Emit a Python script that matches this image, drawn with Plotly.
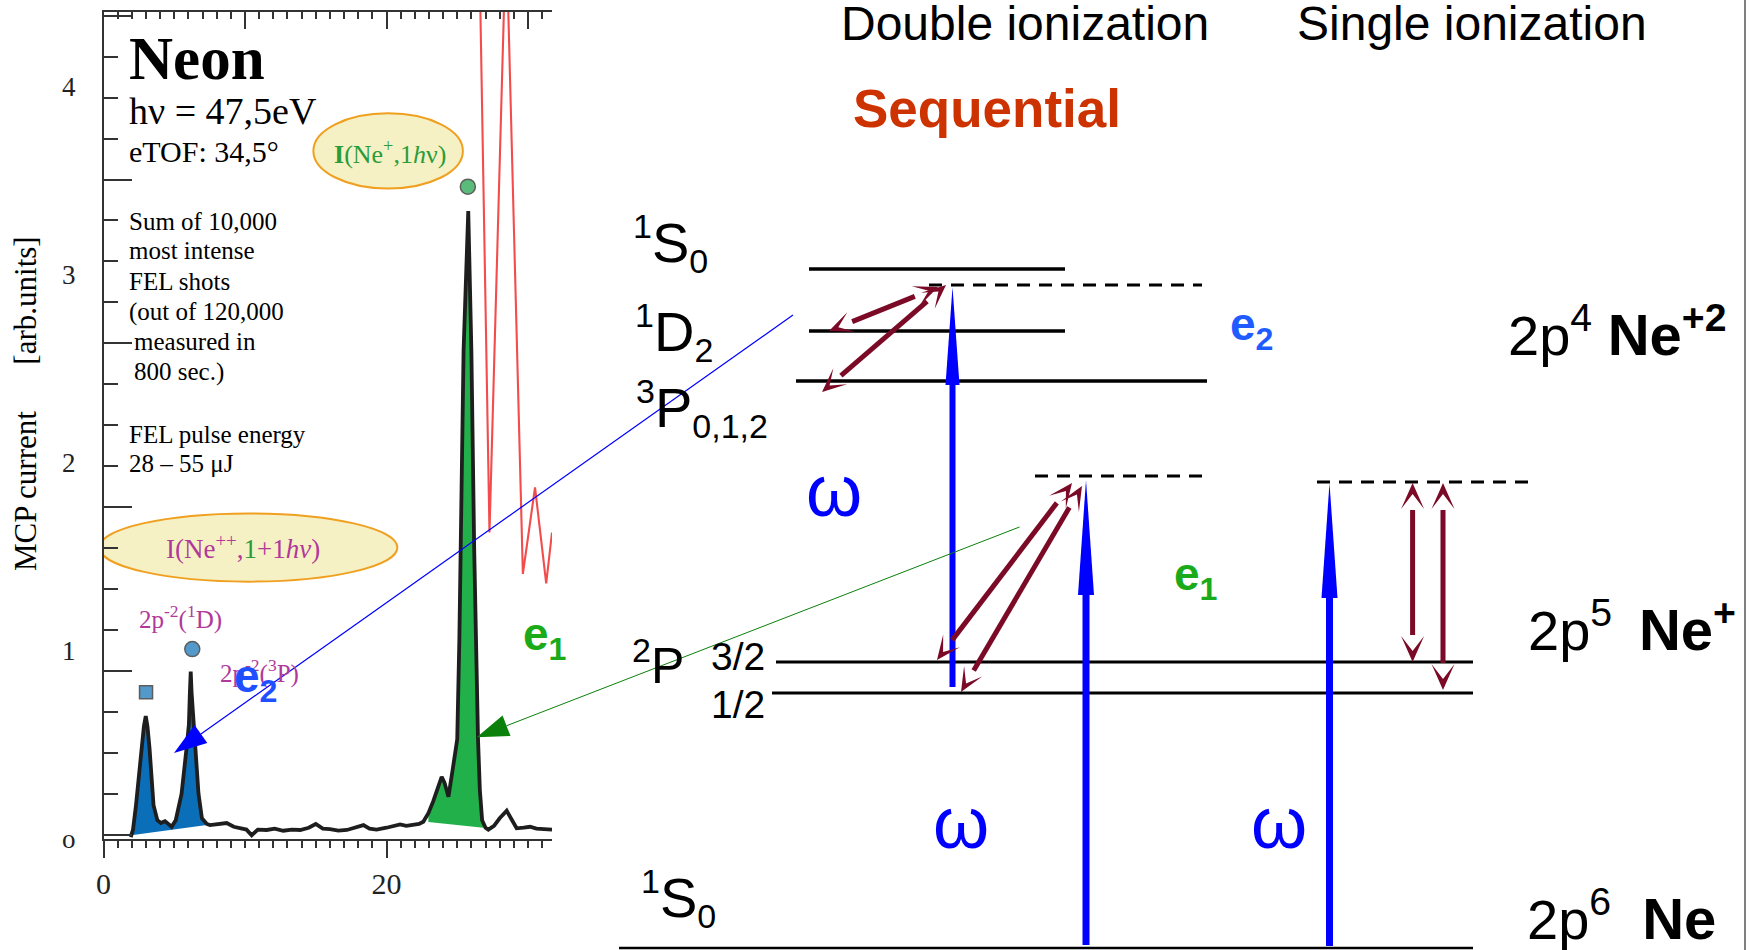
import math
import numpy as np
import plotly.graph_objects as go

SANS = "Liberation Sans"
SERIF = "Liberation Serif"

# ---------------- left panel: electron spectrum ----------------
spec_x = [1.92, 2.08, 2.29, 2.49, 2.68, 2.85, 2.98, 3.1, 3.25, 3.4, 3.53, 3.8, 4.05, 4.34, 4.6,
          4.81, 5.1, 5.51, 5.86, 6.03, 6.1, 6.16, 6.22, 6.36, 6.48, 6.71, 6.95, 7.3, 7.52, 8.0,
          8.7, 9.2, 9.65, 10.1, 10.47, 10.9, 11.53, 12.1, 12.7, 13.3, 13.9, 14.5, 15.0, 15.5,
          16.0, 16.6, 17.2, 17.8, 18.37, 18.8, 19.3, 20.0, 20.5, 20.96, 21.4, 21.9, 22.3, 22.6,
          22.96, 23.3, 23.55, 23.9, 24.1, 24.38, 24.7, 25.0, 25.15, 25.25, 25.45, 25.78, 26.0,
          26.2, 26.3, 26.47, 26.6, 26.76, 27.0, 27.2, 27.6, 28.0, 28.5, 28.85, 29.2, 29.7, 30.15,
          30.6, 31.2, 31.7]
spec_y = [0.01, 0.05, 0.18, 0.35, 0.48, 0.6, 0.654, 0.6, 0.48, 0.35, 0.18, 0.10, 0.085, 0.095, 0.075,
          0.065, 0.10, 0.24, 0.48, 0.61, 0.78, 0.89, 0.78, 0.61, 0.48, 0.24, 0.11, 0.08, 0.074, 0.08,
          0.085, 0.065, 0.06, 0.05, 0.02, 0.05, 0.048, 0.055, 0.044, 0.05, 0.048, 0.06, 0.08, 0.055,
          0.052, 0.045, 0.048, 0.06, 0.074, 0.055, 0.05, 0.06, 0.07, 0.078, 0.07, 0.074, 0.08, 0.092,
          0.137, 0.2, 0.26, 0.33, 0.3, 0.225, 0.38, 0.53, 1.06, 1.54, 2.6, 3.34, 2.6,
          1.54, 1.06, 0.53, 0.26, 0.10, 0.06, 0.05, 0.07, 0.11, 0.15, 0.1, 0.057, 0.06, 0.065,
          0.055, 0.05, 0.05]
assert len(spec_x) == len(spec_y)

# magnified tail (red)
red_x = [26.5, 27.28, 28.46, 29.64, 30.5, 31.29, 31.7]
red_y = [5.0, 1.63, 4.84, 1.41, 1.87, 1.36, 1.63]

# shaded peak groups: (x start, x end, baseline start, baseline end)
fill_blue = (1.95, 7.3, 0.02, 0.075)
fill_green = (22.96, 26.85, 0.09, 0.06)

marker_x = [3.0, 6.27, 25.75]
marker_y = [0.78, 1.01, 3.47]
marker_sym = ["square", "circle", "circle"]
marker_col = ["#0b6fb5", "#0b6fb5", "#15a042"]

x_ticks_major = [0, 10, 20, 30]
x_tick_text = ["0", "", "20", ""]
y_label_vals = [0, 1, 2, 3, 4]
y_label_text = ["o", "1", "2", "3", "4"]

# ---------------- right panel: energy level diagram (diagram units) ----------------
level_y = [269, 331, 381, 662, 693, 948]
level_x0 = [809, 809, 796, 776, 772, 619]
level_x1 = [1065, 1065, 1207, 1473, 1473, 1473]
level_w = [3.6, 3.6, 3.6, 3.2, 3.2, 2.4]

virt_y = [285, 476, 482]
virt_x0 = [929, 1035, 1317]
virt_x1 = [1202, 1210, 1534]

photon_x = [952.5, 1086, 1329.5]
photon_from = [687, 945, 946]
photon_to = [287, 480, 483]

auger_x0 = [829, 822, 937, 961, 1412.6, 1443]
auger_y0 = [331, 392, 660, 692, 662, 690]
auger_x1 = [938, 946, 1072, 1082, 1412.6, 1443]
auger_y1 = [287, 285, 483, 486, 483, 483]

# pointer lines from diagram to spectrum peaks: (start x, start y, tip x, tip y)
pointer_blue = (793, 315, 174, 753)
pointer_green = (1019.5, 527, 476.7, 737.3)

fig = go.Figure()

# ---- fills
def fill_poly(rng):
    lo, hi, b0, b1 = rng
    xs = [lo] + [x for x in spec_x if lo < x < hi] + [hi]
    ys = list(np.interp(xs, spec_x, spec_y))
    return xs + [hi, lo, lo], ys + [b1, b0, ys[0]]

for rng, col in [(fill_blue, "#0a6fb8"), (fill_green, "#22b04a")]:
    px, py = fill_poly(rng)
    fig.add_trace(go.Scatter(x=px, y=py, mode="lines", fill="toself", fillcolor=col,
                             line=dict(width=0, color=col), hoverinfo="skip", showlegend=False))

fig.add_trace(go.Scatter(x=spec_x, y=spec_y, mode="lines", line=dict(color="#1e1e1e", width=3.8),
                         hoverinfo="skip", showlegend=False))
fig.add_trace(go.Scatter(x=red_x, y=red_y, mode="lines", line=dict(color="rgba(240,45,45,0.85)", width=2.1),
                         hoverinfo="skip", showlegend=False))
fig.add_trace(go.Scatter(x=marker_x, y=marker_y, mode="markers",
                         marker=dict(symbol=marker_sym, color=marker_col, size=[13, 15, 15],
                                     line=dict(color="#1a1a1a", width=1.5)),
                         hoverinfo="skip", showlegend=False))
# carrier trace for overlay axes
fig.add_trace(go.Scatter(x=[1], y=[1], xaxis="x3", yaxis="y3", mode="markers",
                         marker=dict(opacity=0), hoverinfo="skip", showlegend=False))

# ---- diagram levels
for y, x0, x1, w in zip(level_y, level_x0, level_x1, level_w):
    fig.add_trace(go.Scatter(x=[x0, x1], y=[y, y], xaxis="x2", yaxis="y2", mode="lines",
                             line=dict(color="black", width=w), hoverinfo="skip", showlegend=False))
for y, x0, x1 in zip(virt_y, virt_x0, virt_x1):
    fig.add_trace(go.Scatter(x=[x0, x1], y=[y, y], xaxis="x2", yaxis="y2", mode="lines",
                             line=dict(color="black", width=3, dash="13px,9px"),
                             hoverinfo="skip", showlegend=False))

shapes = []

def head_path(tx, ty, ux, uy, L, W, N=None):
    nx, ny = -uy, ux
    bx, by = tx - L * ux, ty - L * uy
    p1 = (bx + W * nx, by + W * ny)
    p2 = (bx - W * nx, by - W * ny)
    pts = [(tx, ty), p1] + ([(tx - N * ux, ty - N * uy)] if N else []) + [p2]
    return "M " + " L ".join(f"{x:.2f},{y:.2f}" for x, y in pts) + " Z"

def add_arrow(x0, y0, x1, y1, color, width, L, W, N=None, both=False, gap=0.0):
    dx, dy = x1 - x0, y1 - y0
    d = math.hypot(dx, dy)
    ux, uy = dx / d, dy / d
    sx, sy = (x0 + (L + gap) * ux, y0 + (L + gap) * uy) if both else (x0, y0)
    ex, ey = x1 - (L + gap) * ux, y1 - (L + gap) * uy
    shapes.append(dict(type="line", xref="x2", yref="y2", x0=sx, y0=sy, x1=ex, y1=ey,
                       line=dict(color=color, width=width), layer="above"))
    shapes.append(dict(type="path", xref="x2", yref="y2", path=head_path(x1, y1, ux, uy, L, W, N),
                       fillcolor=color, line=dict(width=0), layer="above"))
    if both:
        shapes.append(dict(type="path", xref="x2", yref="y2", path=head_path(x0, y0, -ux, -uy, L, W, N),
                           fillcolor=color, line=dict(width=0), layer="above"))

# photon arrows
for i, (x, yf, yt) in enumerate(zip(photon_x, photon_from, photon_to)):
    if i == 0:
        add_arrow(x, yf, x, yt, "#0000ff", 6, 98, 7, gap=-4)
    else:
        add_arrow(x, yf, x, yt, "#0000ff", 7, 115, 8, gap=-4)

# Auger / relaxation double arrows
for x0, y0, x1, y1 in zip(auger_x0, auger_y0, auger_x1, auger_y1):
    if x0 == x1:
        add_arrow(x0, y0, x1, y1, "#7b0a26", 5, 26, 11.5, N=11, both=True, gap=1)
    else:
        add_arrow(x0, y0, x1, y1, "#7b0a26", 5, 24, 10.5, N=10, both=True, gap=1)

# pointers
add_arrow(*pointer_blue, "#0000ff", 1.2, 33, 11)
add_arrow(*pointer_green, "#0b800b", 1.0, 32, 11)

# right border line
shapes.append(dict(type="line", xref="x2", yref="y2", x0=1745, x1=1745, y0=0, y1=950,
                   line=dict(color="#555", width=1.5)))

# ellipses in spectrum coords
shapes.append(dict(type="circle", xref="x", yref="y", x0=14.83, x1=25.40, y0=3.46, y1=3.86,
                   fillcolor="#f6f1c4", line=dict(color="#f0a020", width=2), layer="below"))
shapes.append(dict(type="circle", xref="x", yref="y", x0=-0.3, x1=20.77, y0=1.369, y1=1.732,
                   fillcolor="#f6f1c4", line=dict(color="#f0a020", width=2), layer="below"))

annotations = []

def ann(text, x, y, size, color="#000", family=SANS, xanchor="center", yanchor="middle", **kw):
    annotations.append(dict(text=text, x=x, y=y, xref="x2", yref="y2", showarrow=False,
                            xanchor=xanchor, yanchor=yanchor,
                            font=dict(family=family, size=size, color=color), **kw))

MAG = "#b0399a"
GRN = "#2a9d3a"
SM = "<span style='font-size:34px'>%s</span>"
BIG = "<span style='font-size:58px'>%s</span>"
# left panel text
ann("<b>Neon</b>", 127, 58.4, 61, family=SERIF, xanchor="left")
ann("hν = 47,5eV", 127, 110.5, 38, family=SERIF, xanchor="left")
ann("eTOF: 34,5°", 127, 151.6, 30, family=SERIF, xanchor="left")
info_lines = ["Sum of 10,000", "most intense", "FEL shots", "(out of 120,000", "measured in", "800 sec.)"]
info_x = [127, 127, 127, 127, 132, 132]
info_y = [221.6, 250.6, 281.6, 311.6, 341.6, 371.6]
for t, x, y in zip(info_lines, info_x, info_y):
    ann(t, x, y, 25, family=SERIF, xanchor="left")
ann("FEL pulse energy", 127, 434.6, 25, family=SERIF, xanchor="left")
ann("28 – 55 μJ", 127, 463.3, 25, family=SERIF, xanchor="left")
ann("2p<sup>-2</sup>(<sup>1</sup>D)", 137, 617.6, 25, color=MAG, family=SERIF, xanchor="left")
ann("2p<sup>-2</sup>(<sup>3</sup>P)", 218, 671.6, 25, color=MAG, family=SERIF, xanchor="left")
ann("<b>I</b>(Ne<sup>+</sup>,1<i>h</i>ν)", 390, 152.5, 26, color=GRN, family=SERIF)
ann("I(Ne<sup>++</sup>,<span style='color:%s'>1</span>+1<i>hν</i>)" % GRN, 242.5, 546.8, 27,
    color=MAG, family=SERIF)
ann("MCP current" + "\u00a0" * 6 + "[arb.units]", 25, 404, 31, family=SERIF, textangle=-90)
ann("<b>e<sub>2</sub></b>", 232, 679.4, 46, color="#1f4fff", xanchor="left")
ann("<b>e<sub>1</sub></b>", 521, 637.4, 46, color="#1aaa1a", xanchor="left")

# right diagram text
ann("Double ionization", 1025, 23.4, 48)
ann("Single ionization", 1472, 23.4, 48)
ann("<b>Sequential</b>", 987, 108.7, 53, color="#cc3300")
ann("<sup>%s</sup>S<sub>%s</sub>" % (SM % "1", SM % "0"), 631, 243.6, 56, xanchor="left")
ann("<sup>%s</sup>D<sub>%s</sub>" % (SM % "1", SM % "2"), 633, 332.6, 56, xanchor="left")
ann("<sup>%s</sup>P<sub>%s</sub>" % (SM % "3", SM % "0,1,2"), 634, 408.6, 56, xanchor="left")
ann("<sup>%s</sup>P" % (SM % "2"), 630, 662, 50, xanchor="left")
ann("3/2", 709, 656.5, 39, xanchor="left")
ann("1/2", 709, 704.5, 39, xanchor="left")
ann("<sup>%s</sup>S<sub>%s</sub>" % (SM % "1", SM % "0"), 639, 898.6, 56, xanchor="left")
for x, y in [(834, 490.8), (961, 822.8), (1279, 822.8)]:
    ann("ω", x, y, 72, color="#0000ff")
ann("<b>e<sub>2</sub></b>", 1228, 327.4, 46, color="#1f5bff", xanchor="left")
ann("<b>e<sub>1</sub></b>", 1172, 577.4, 46, color="#1aaa1a", xanchor="left")
ann("2p<sup>4</sup>\u00a0<b>%s<sup>+2</sup></b>" % (BIG % "Ne"), 1506, 331.5, 56, xanchor="left")
ann("2p<sup>5</sup>\u00a0\u2009<b>%s<sup>+</sup></b>" % (BIG % "Ne"), 1526, 626.5, 56, xanchor="left")
ann("2p<sup>6</sup>\u00a0\u00a0<b>%s</b>" % (BIG % "Ne"), 1525, 915, 56, xanchor="left")

XD = [103.6 / 1758, 552 / 1758]
YD = [(950 - 839) / 950, (950 - 11.8) / 950]
AX = "#333"

fig.update_layout(
    width=1758, height=950, margin=dict(l=0, r=0, t=0, b=0, pad=0, autoexpand=False), autosize=False,
    paper_bgcolor="white", plot_bgcolor="rgba(0,0,0,0)", showlegend=False,
    xaxis=dict(domain=XD, range=[0, 31.7], anchor="y", showgrid=False, zeroline=False, automargin=False,
               showline=True, linecolor=AX, linewidth=2, ticks="outside", ticklen=17, tickwidth=1.5,
               tickcolor=AX, tickmode="array", tickvals=x_ticks_major, ticktext=x_tick_text,
               tickfont=dict(family=SERIF, size=30, color="#222"),
               minor=dict(tickvals=list(range(0, 32)), ticklen=7, tickwidth=1.5, tickcolor=AX, ticks="outside")),
    xaxis3=dict(overlaying="x", side="top", anchor="y", range=[0, 31.7], showgrid=False, zeroline=False,
                automargin=False,
                showline=True, linecolor=AX, linewidth=2, ticks="inside", ticklen=17, tickwidth=1.5,
                tickcolor=AX, tickmode="array", tickvals=x_ticks_major, showticklabels=False,
                minor=dict(tickvals=list(range(0, 32)), ticklen=7, tickwidth=1.5, tickcolor=AX, ticks="inside")),
    yaxis=dict(domain=YD, range=[0, 4.40], anchor="x", showgrid=False, zeroline=False, automargin=False,
               showline=True, linecolor=AX, linewidth=2, ticks="inside", ticklen=28, tickwidth=1.5,
               tickcolor=AX, tickmode="linear", tick0=0.02, dtick=0.872, showticklabels=False,
               minor=dict(tick0=0.02, dtick=0.218, ticklen=14, tickwidth=1.5, tickcolor=AX, ticks="inside")),
    yaxis3=dict(overlaying="y", side="left", anchor="x", range=[0, 4.40], showgrid=False, zeroline=False,
                automargin=False,
                showline=False, ticks="", tickmode="array", tickvals=y_label_vals, ticktext=y_label_text,
                ticklabelstandoff=27, tickfont=dict(family=SERIF, size=27, color="#222")),
    xaxis2=dict(domain=[0, 1], range=[0, 1758], anchor="y2", visible=False, fixedrange=True, automargin=False),
    yaxis2=dict(domain=[0, 1], range=[950, 0], anchor="x2", visible=False, fixedrange=True, automargin=False),
    shapes=shapes, annotations=annotations,
)

fig.write_html("out.html")
